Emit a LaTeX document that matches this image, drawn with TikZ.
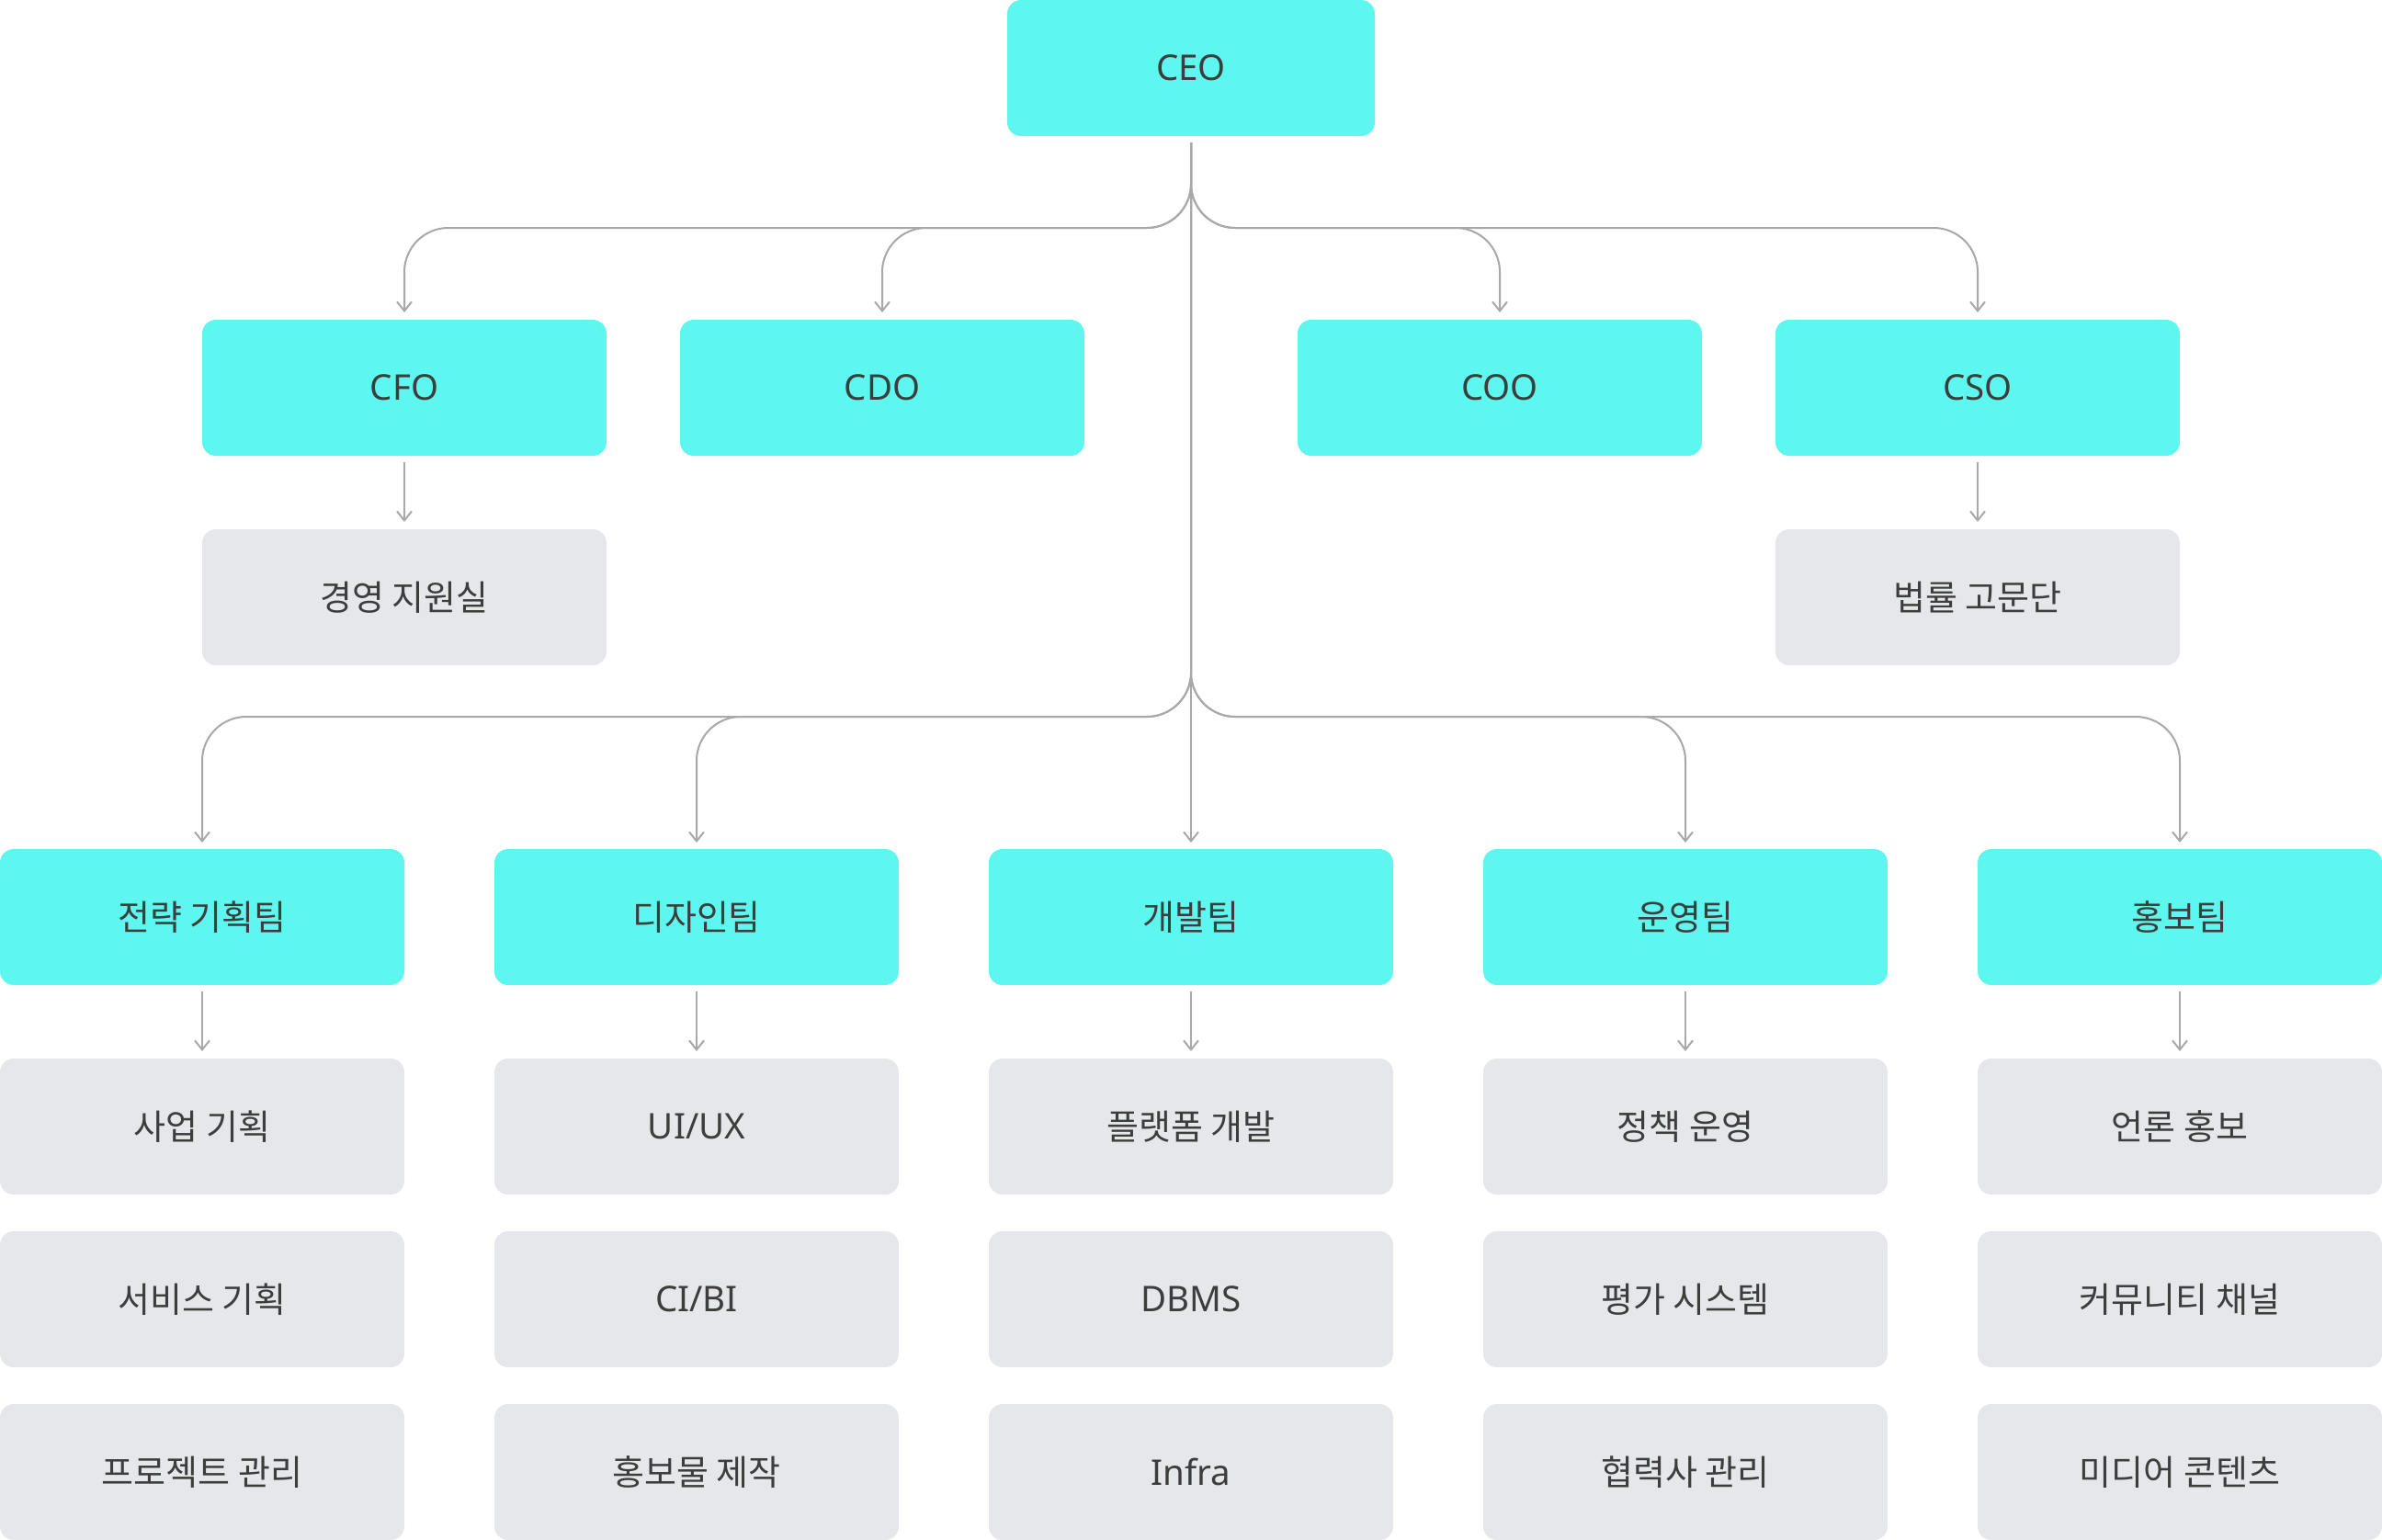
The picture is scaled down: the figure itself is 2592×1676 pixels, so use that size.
\documentclass[tikz,border=0pt]{standalone}
\usepackage{fontspec}
\setmainfont{Noto Sans CJK KR}
\newfontfamily\latinfont{Noto Sans}
\usetikzlibrary{arrows.meta}
\definecolor{cyanbox}{HTML}{5EF7EF}
\definecolor{graybox}{HTML}{E6E7EB}
\definecolor{txt}{HTML}{3D3D3D}
\definecolor{linec}{HTML}{A8A8A8}
\tikzset{
  basebox/.style={minimum width=440pt, minimum height=148pt, rounded corners=15pt,
    inner sep=0pt, outer sep=0pt, text=txt, font=\fontsize{38}{42}\selectfont, anchor=center},
  headbox/.style={basebox, fill=cyanbox},
  subbox/.style={basebox, fill=graybox},
  lat/.style={font=\fontsize{38.5}{42}\selectfont\latinfont},
  conn/.style={draw=linec, line width=2pt, rounded corners=48pt,
    -{Straight Barb[length=10pt,width=16pt,line width=2pt]}},
  plain/.style={draw=linec, line width=2pt,
    -{Straight Barb[length=10pt,width=16pt,line width=2pt]}}
}
\begin{document}
\begin{tikzpicture}[x=1pt,y=1pt]
\useasboundingbox (0,0) rectangle (2592,-1676);
% CEO
\node[headbox, lat, minimum width=400pt] (ceo) at (1296,-74) {CEO};
% level 1
\node[headbox, lat] (cfo) at (440,-422) {CFO};
\node[headbox, lat] (cdo) at (960,-422) {CDO};
\node[headbox, lat] (coo) at (1632,-422) {COO};
\node[headbox, lat] (cso) at (2152,-422) {CSO};
\node[subbox] (mgmt) at (440,-650) {경영 지원실};
\node[subbox] (legal) at (2152,-650) {법률 고문단};
% teams
\node[headbox] (t1) at (220,-998) {전략 기획팀};
\node[headbox] (t2) at (758,-998) {디자인팀};
\node[headbox] (t3) at (1296,-998) {개발팀};
\node[headbox] (t4) at (1834,-998) {운영팀};
\node[headbox] (t5) at (2372,-998) {홍보팀};
% sub rows
\node[subbox] (a1) at (220,-1226) {사업 기획};
\node[subbox] (a2) at (220,-1414) {서비스 기획};
\node[subbox] (a3) at (220,-1602) {프로젝트 관리};
\node[subbox, lat] (b1) at (758,-1226) {UI/UX};
\node[subbox, lat] (b2) at (758,-1414) {CI/BI};
\node[subbox] (b3) at (758,-1602) {홍보물 제작};
\node[subbox] (c1) at (1296,-1226) {플랫폼 개발};
\node[subbox, lat] (c2) at (1296,-1414) {DBMS};
\node[subbox, lat] (c3) at (1296,-1602) {Infra};
\node[subbox] (d1) at (1834,-1226) {정책 운영};
\node[subbox] (d2) at (1834,-1414) {평가 시스템};
\node[subbox] (d3) at (1834,-1602) {협력사 관리};
\node[subbox] (e1) at (2372,-1226) {언론 홍보};
\node[subbox] (e2) at (2372,-1414) {커뮤니티 채널};
\node[subbox] (e3) at (2372,-1602) {미디어 콘텐츠};
% bus coordinates
\coordinate (start) at ([yshift=-7pt]ceo.south);
\coordinate (bus1) at (1296,-248);
\coordinate (bus2) at (1296,-780);
% CEO to level 1
\foreach \n in {cfo,cdo,coo,cso}{
  \draw[conn] (start) -- (bus1) -- (bus1 -| \n.north) -- ([yshift=8pt]\n.north);
}
% CEO to teams
\foreach \n in {t1,t2,t4,t5}{
  \draw[conn] (start) -- (bus2) -- (bus2 -| \n.north) -- ([yshift=7pt]\n.north);
}
\draw[plain] (start) -- ([yshift=7pt]t3.north);
% level 1 to sub
\draw[plain] ([yshift=-7pt]cfo.south) -- ([yshift=8pt]mgmt.north);
\draw[plain] ([yshift=-7pt]cso.south) -- ([yshift=8pt]legal.north);
% teams to first sub
\foreach \t/\s in {t1/a1,t2/b1,t3/c1,t4/d1,t5/e1}{
  \draw[plain] ([yshift=-7pt]\t.south) -- ([yshift=8pt]\s.north);
}
\end{tikzpicture}
\end{document}
